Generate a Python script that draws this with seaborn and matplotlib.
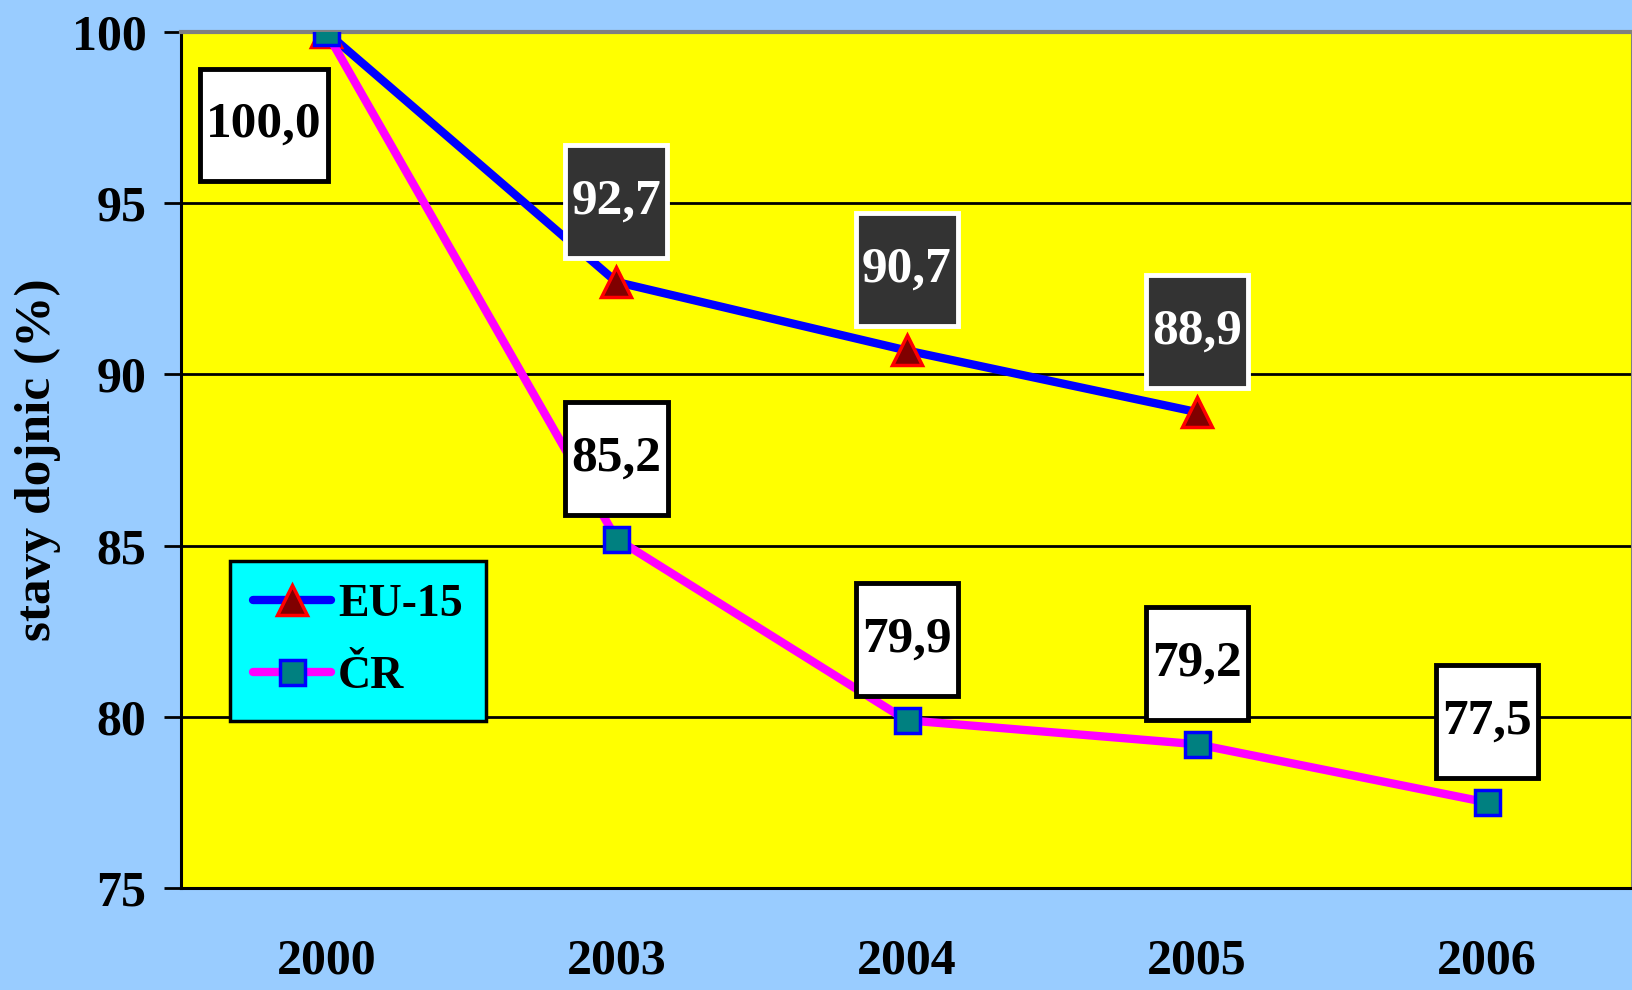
import numpy as np
import matplotlib
matplotlib.use("Agg")
import matplotlib.pyplot as plt
from matplotlib.path import Path
import seaborn as sns

# data
years = ["2000", "2003", "2004", "2005", "2006"]
eu15 = [100.0, 92.7, 90.7, 88.9, np.nan]
cr = [100.0, 85.2, 79.9, 79.2, 77.5]
y_ticks = [75, 80, 85, 90, 95, 100]

sns.set_theme(style="white")
plt.rcParams["font.family"] = ["Liberation Serif", "DejaVu Serif"]
plt.rcParams["font.weight"] = "bold"
plt.rcParams["text.color"] = "black"
plt.rcParams["axes.labelcolor"] = "black"
plt.rcParams["xtick.color"] = "black"
plt.rcParams["ytick.color"] = "black"


# box s ruznym odsazenim v x a y
def tall_box(x0, y0, width, height, mutation_size):
    px = 0.12 * mutation_size
    py = 0.65 * mutation_size
    x0, y0 = x0 - px, y0 - py
    x1, y1 = x0 + width + 2 * px, y0 + height + 2 * py
    return Path([(x0, y0), (x1, y0), (x1, y1), (x0, y1), (x0, y0)], closed=True)


x = np.arange(len(years))

fig = plt.figure(figsize=(16.32, 9.9), dpi=100, facecolor="#99CCFF")
ax = fig.add_axes([0.111, 0.103, 0.889, 0.8647])
ax.set_facecolor("#FFFF00")

sns.lineplot(x=x, y=eu15, ax=ax, color="#0000FF", lw=6, marker="^",
             markersize=21, markerfacecolor="#800000", markeredgecolor="#FF0000",
             markeredgewidth=2.5, label="EU-15", zorder=3)
sns.lineplot(x=x, y=cr, ax=ax, color="#FF00FF", lw=6, marker="s",
             markersize=18, markerfacecolor="#008080", markeredgecolor="#0000FF",
             markeredgewidth=2.5, label="ČR", zorder=4)

fmt = lambda v: f"{v:.1f}".replace(".", ",")
fs_lab = 37

# popisky EU-15 (tmave boxy)
for i in range(1, len(years)):
    if np.isnan(eu15[i]):
        continue
    ax.annotate(fmt(eu15[i]), xy=(x[i], eu15[i]), xytext=(0, 58), textcoords="offset points",
                ha="center", va="center", color="white", fontsize=fs_lab, fontweight="bold",
                zorder=6,
                bbox=dict(boxstyle=tall_box, fc="#333333", ec="white", lw=3.5))

# popisky CR (bile boxy)
for i in range(len(years)):
    off = (0, 58) if i > 0 else (-45, -67)
    ax.annotate(fmt(cr[i]), xy=(x[i], cr[i]), xytext=off, textcoords="offset points",
                ha="center", va="center", color="black", fontsize=fs_lab, fontweight="bold",
                zorder=6,
                bbox=dict(boxstyle=tall_box, fc="white", ec="black", lw=3.5))

ax.set_xlim(-0.5, len(years) - 0.5)
ax.set_ylim(75, 100)
ax.set_yticks(y_ticks)
ax.set_yticklabels([str(t) for t in y_ticks], fontsize=36, fontweight="bold")
ax.set_xticks(x)
ax.set_xticklabels(years, fontsize=36, fontweight="bold")
ax.set_xticks(np.arange(-0.5, len(years), 1), minor=True)
ax.tick_params(axis="x", which="major", length=0, pad=36)
ax.tick_params(axis="x", which="minor", length=16, width=2, direction="out", color="black")
ax.tick_params(axis="y", which="major", length=12, width=2, direction="out", pad=13,
               color="black", left=True)

ax.yaxis.grid(True, color="black", lw=2)
ax.xaxis.grid(False)
ax.set_axisbelow(True)

for s in ["left", "bottom"]:
    ax.spines[s].set_color("black")
    ax.spines[s].set_linewidth(2.2)
ax.spines["top"].set_color("#808080")
ax.spines["top"].set_linewidth(3)
ax.spines["right"].set_color("#808080")
ax.spines["right"].set_linewidth(1.5)

ax.set_xlabel("")
ax.set_ylabel("stavy dojnic (%)", fontsize=37, fontweight="bold", labelpad=8)

leg = ax.legend(loc="lower left", bbox_to_anchor=(0.034, 0.195), borderaxespad=0,
                frameon=True, fancybox=False, facecolor="#00FFFF", edgecolor="black",
                framealpha=1, fontsize=33, handlelength=1.7, handletextpad=0.15,
                borderpad=0.5, labelspacing=0.65)
leg.get_frame().set_linewidth(2.5)
leg.set_zorder(10)

fig.savefig("out.png", dpi=100, facecolor=fig.get_facecolor())
